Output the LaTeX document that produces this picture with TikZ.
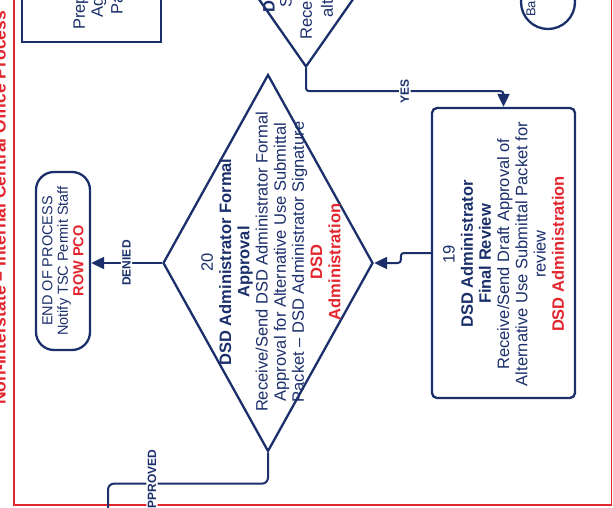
\documentclass[tikz,border=0pt]{standalone}
\usepackage{fontspec}
\setmainfont{Liberation Sans}
\usetikzlibrary{shapes.geometric,arrows.meta,calc}
\definecolor{navy}{HTML}{1B2F6B}
\definecolor{rred}{HTML}{E3262E}
\begin{document}
\begin{tikzpicture}[x=1pt,y=-1pt,
  shp/.style={draw=navy, line width=2.3pt, inner sep=0pt},
  txt/.style={rotate=90, align=center, text=navy, inner sep=0pt, font=\fontsize{16.5}{18.2}\selectfont},
  part/.style={rotate=90, anchor=west, text=navy, inner sep=0pt, font=\fontsize{16.5}{18}\selectfont},
  flow/.style={draw=navy, line width=2pt, rounded corners=3pt},
  arr/.style={-{Triangle[length=13pt,width=12pt]}},
  lbl/.style={rotate=90, fill=white, text=navy, inner sep=1.5pt, font=\bfseries\fontsize{12}{12}\selectfont}]
\useasboundingbox (0,0) rectangle (613,508);
\clip (0,0) rectangle (613,508);
\fill[white] (0,0) rectangle (613,508);

% red frame and title
\draw[rred, line width=1.2pt] (14,-2) -- (14,505) -- (611.5,505) -- (611.5,-2);
\node[rotate=90, anchor=base west, text=rred, inner sep=0pt, font=\bfseries\fontsize{17.5}{18}\selectfont] (title) at (5.5,405) {Non-Interstate – Internal Central Office Process};

% partially visible shapes at the top
\node[shp, minimum width=139pt, minimum height=104pt] (prep) at (91.5,-10) {};
\node[part] (p1) at (81,30) {Prep};
\node[part] (p2) at (99,18) {Ag};
\node[part] (p3) at (117,15) {Pa};

\node[shp, diamond, minimum width=252pt, minimum height=360pt] (d18) at (306,-113) {};
\node[part, font=\bfseries\fontsize{16.5}{18}\selectfont] (q1) at (269,13) {DS};
\node[part] (q2) at (286,8) {S};
\node[part] (q3) at (306,40) {Recei};
\node[part] (q4) at (327,18) {alt};

\node[shp, circle, minimum size=54pt] (back) at (548,2) {};
\node[part, font=\fontsize{13}{14}\selectfont] (bk) at (531,17) {Ba};

% step 19
\node[shp, rectangle, rounded corners=5pt, minimum width=143pt, minimum height=290pt] (b19) at (503.5,253) {};
\node[txt] (t19) at (503.5,254) {19\\\textbf{DSD Administrator}\\\textbf{Final Review}\\Receive/Send Draft Approval of\\Alternative Use Submittal Packet for\\review\\\textcolor{rred}{\textbf{DSD Administration}}};

% step 20
\node[shp, diamond, minimum width=210pt, minimum height=377pt] (d20) at (268,263) {};
\node[txt] (t20) at (271,262) {20\\\textbf{DSD Administrator Formal}\\\textbf{Approval}\\Receive/Send DSD Administrator Formal\\Approval for Alternative Use Submittal\\Packet – DSD Administrator Signature\\\textcolor{rred}{\textbf{DSD}}\\\textcolor{rred}{\textbf{Administration}}};

% end of process
\node[shp, rectangle, rounded corners=18pt, minimum width=54pt, minimum height=178pt] (endp) at (63,261) {};
\node[txt, font=\fontsize{14.5}{15.5}\selectfont] (tend) at (63,261) {END OF PROCESS\\Notify TSC Permit Staff\\\textcolor{rred}{\textbf{ROW PCO}}};

% connectors
\draw[flow, arr] (d18.south) -- ++(0,23) -| node[lbl, pos=0.25] {YES} (b19.north);
\draw[flow, arr] (b19.west) -- ++(-30,0) |- (d20.east);
\draw[flow, arr] (d20.west) -- node[lbl] {DENIED} (d20.west -| endp.east);
\coordinate (apr) at (108,530);
\draw[flow, rounded corners=6pt] (d20.south) -- ++(0,31) coordinate (c1) -- node[lbl, pos=0.725] {APPROVED} (c1 -| apr) -- (apr);
\end{tikzpicture}
\end{document}
